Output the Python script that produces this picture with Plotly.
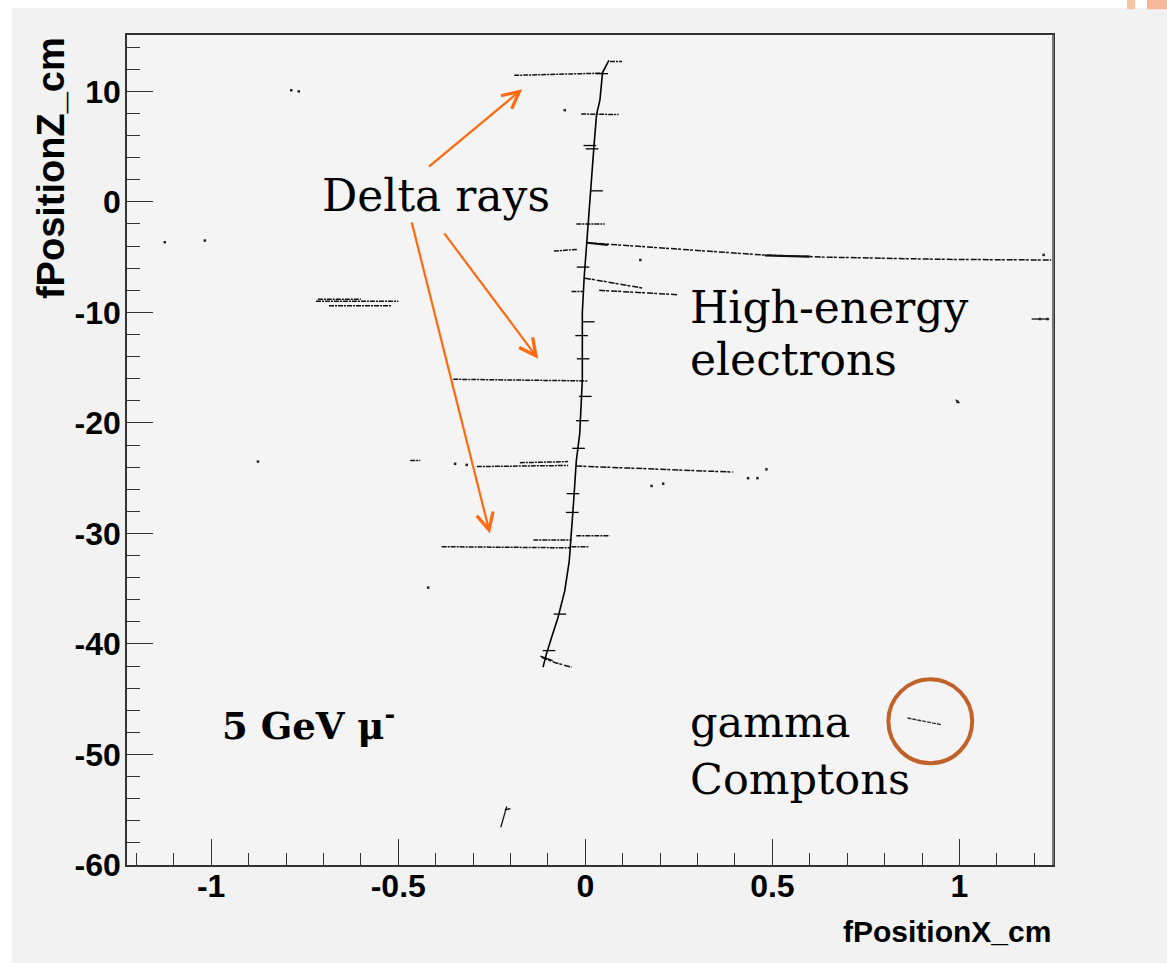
import plotly.graph_objects as go

# ---------------- data ----------------
# main muon track (fPositionX_cm, fPositionZ_cm)
muon_x = [0.063, 0.046, 0.039, 0.030, 0.023, 0.0165, 0.0075, 0.003, -0.003, -0.008,
          -0.008, -0.008, -0.015, -0.024, -0.031, -0.037, -0.043, -0.055, -0.073,
          -0.090, -0.104, -0.113]
muon_z = [12.8, 11.7, 9.2, 7.9, 5.0, 2.0, -1.9, -3.7, -6.8, -10.0,
          -12.5, -16.1, -21.0, -23.4, -27.0, -30.3, -32.5, -35.2, -37.6,
          -39.4, -40.9, -42.1]

# small hit marks along the track
hit_x = [0.008, -0.010, -0.006, 0.000, -0.008, -0.018, -0.033, -0.035, -0.068,
         -0.097, 0.012, 0.018, -0.006, 0.044, 0.030]
hit_z = [-10.85, -12.1, -14.2, -17.6, -19.8, -22.3, -26.4, -28.1, -37.3,
         -40.6, 5.1, 4.8, -5.9, 11.6, 1.0]

# delta-ray segments (None separates segments)
delta_x = [-0.190, 0.050, None, 0.066, 0.098, None, -0.011, 0.089, None,
           -0.024, 0.052, None, -0.084, -0.021, None, -0.037, -0.004, None,
           -0.353, 0.008, None,
           -0.290, -0.046, None, -0.175, -0.046, None, -0.468, -0.441, None,
           -0.384, -0.041, None, -0.139, -0.037, None, -0.024, 0.065, None,
           -0.037, 0.008, None,
           -0.720, -0.500, None, -0.685, -0.517, None, -0.715, -0.600]
delta_z = [11.45, 11.65, None, 12.7, 12.7, None, 7.95, 7.9, None,
           -2.0, -2.0, None, -4.45, -4.3, None, -8.1, -8.1, None,
           -16.05, -16.2, None,
           -23.95, -23.85, None, -23.6, -23.5, None, -23.4, -23.4, None,
           -31.2, -31.3, None, -30.6, -30.6, None, -30.2, -30.2, None,
           -31.2, -31.2, None,
           -9.0, -9.0, None, -9.4, -9.4, None, -8.8, -8.8]

# high-energy electrons
electron_x = [0.005, 0.220, 0.473, 0.641, 0.956, 1.245, None,
              -0.001, 0.154, None, 0.037, 0.248, None,
              -0.024, 0.395, None,
              -0.117, -0.080, -0.037]
electron_z = [-3.7, -4.2, -4.8, -5.0, -5.2, -5.26, None,
              -6.9, -7.8, None, -8.0, -8.4, None,
              -23.9, -24.45, None,
              -41.2, -41.7, -42.1]

# dense part of the long electron
dense_x = [0.480, 0.600, None, 0.005, 0.060]
dense_z = [-4.85, -4.95, None, -3.7, -3.9]

# isolated specks / short stubs
speck_x = [-0.786, -0.766, -1.124, -1.017, -0.875, -0.420, -0.055, 0.147,
           0.177, 0.208, 0.435, 0.460, 0.484, -0.348, -0.317, 1.215, 1.235, 0.995, 1.225]
speck_z = [10.1, 10.0, -3.65, -3.5, -23.5, -34.9, 8.3, -5.26,
           -25.7, -25.5, -25.0, -25.0, -24.2, -23.7, -23.8, -10.6, -10.6, -18.1, -4.8]

stub_x = [-0.210, -0.226, None, -0.215, -0.200, None, 1.193, 1.240, None,
          0.990, 1.000, None, -0.120, -0.087]
stub_z = [-54.7, -56.6, None, -55.0, -54.9, None, -10.6, -10.6, None,
          -17.9, -18.2, None, -41.1, -41.5]

# gamma Compton track
compton_x = [0.861, 0.905, 0.951]
compton_z = [-46.7, -47.0, -47.3]

x_ticks = [-1, -0.5, 0, 0.5, 1]
x_ticktext = ["-1", "-0.5", "0", "0.5", "1"]
z_ticks = [10, 0, -10, -20, -30, -40, -50, -60]
z_ticktext = ["10", "0", "-10", "-20", "-30", "-40", "-50", "-60"]

# ---------------- figure ----------------
SERIF = "DejaVu Serif"
SANS = "Liberation Sans, Arial"

fig = go.Figure()

fig.add_trace(go.Scatter(x=delta_x, y=delta_z, mode="lines",
                         line=dict(color="#111", width=1.5, dash="5px,1px,2px,1px"),
                         hoverinfo="skip", showlegend=False))
fig.add_trace(go.Scatter(x=electron_x, y=electron_z, mode="lines",
                         line=dict(color="#111", width=1.5, dash="6px,1px,3px,2px"),
                         hoverinfo="skip", showlegend=False))
fig.add_trace(go.Scatter(x=dense_x, y=dense_z, mode="lines",
                         line=dict(color="#111", width=2.2),
                         hoverinfo="skip", showlegend=False))
fig.add_trace(go.Scatter(x=stub_x, y=stub_z, mode="lines",
                         line=dict(color="#111", width=1.3),
                         hoverinfo="skip", showlegend=False))
fig.add_trace(go.Scatter(x=speck_x, y=speck_z, mode="markers",
                         marker=dict(color="#222", size=2.5, symbol="square"),
                         hoverinfo="skip", showlegend=False))
fig.add_trace(go.Scatter(x=compton_x, y=compton_z, mode="lines",
                         line=dict(color="#333", width=1.4, dash="4px,1px"),
                         hoverinfo="skip", showlegend=False))
fig.add_trace(go.Scatter(x=muon_x, y=muon_z, mode="lines",
                         line=dict(color="#000", width=1.6),
                         hoverinfo="skip", showlegend=False))
fig.add_trace(go.Scatter(x=hit_x, y=hit_z, mode="markers",
                         marker=dict(symbol="line-ew", size=9,
                                     line=dict(color="#000", width=1.3)),
                         hoverinfo="skip", showlegend=False))

# ---------------- axes ----------------
axis_common = dict(showgrid=False, zeroline=False, showline=True,
                   linecolor="#333", linewidth=1.5, mirror=True,
                   ticks="inside", tickcolor="#333", tickwidth=1,
                   tickfont=dict(family=SANS, size=32, color="#000", weight="bold"))
fig.update_xaxes(range=[-1.225, 1.25], tickvals=x_ticks, ticktext=x_ticktext,
                 ticklen=26, ticklabelstandoff=-8,
                 minor=dict(dtick=0.1, tick0=0, ticklen=12, ticks="inside",
                            tickcolor="#333", tickwidth=1),
                 **axis_common)
fig.update_yaxes(range=[-60, 15.1], tickvals=z_ticks, ticktext=z_ticktext,
                 ticklen=26, ticklabelstandoff=-2,
                 minor=dict(dtick=2, tick0=0, ticklen=13, ticks="inside",
                            tickcolor="#333", tickwidth=1),
                 **axis_common)

ORANGE = "#ff6a10"
annotations = [
    dict(xref="paper", yref="paper", x=-0.082, y=1.0, xanchor="center", yanchor="top",
         text="<b>fPositionZ_cm</b>", textangle=-90, showarrow=False,
         font=dict(family=SANS, size=38, color="#000")),
    dict(xref="paper", yref="paper", x=1.0, y=-0.058, xanchor="right", yanchor="top",
         text="<b>fPositionX_cm</b>", showarrow=False,
         font=dict(family=SANS, size=30, color="#000")),
    dict(x=-0.708, y=0.54, xanchor="left", yanchor="middle", text="Delta rays",
         showarrow=False, font=dict(family=SERIF, size=44, color="#000")),
    dict(x=0.274, y=-9.6, xanchor="left", yanchor="middle", text="High-energy",
         showarrow=False, font=dict(family=SERIF, size=44, color="#000")),
    dict(x=0.274, y=-14.3, xanchor="left", yanchor="middle", text="electrons",
         showarrow=False, font=dict(family=SERIF, size=44, color="#000")),
    dict(x=0.274, y=-47.1, xanchor="left", yanchor="middle", text="gamma",
         showarrow=False, font=dict(family=SERIF, size=43, color="#000")),
    dict(x=0.274, y=-52.2, xanchor="left", yanchor="middle", text="Comptons",
         showarrow=False, font=dict(family=SERIF, size=43, color="#000")),
    dict(x=-0.977, y=-47.2, xanchor="left", yanchor="middle",
         text="<b>5 GeV μ<sup>-</sup></b>",
         showarrow=False, font=dict(family=SERIF, size=37, color="#000")),
]
# orange arrows: (tail_x, tail_z, head_x, head_z)
arrows = [(-0.422, 3.08, -0.169, 10.2),
          (-0.380, -2.72, -0.126, -14.2),
          (-0.465, -1.72, -0.255, -30.0)]
for tx, tz, hx, hz in arrows:
    annotations.append(dict(x=hx, y=hz, ax=tx, ay=tz, xref="x", yref="y",
                            axref="x", ayref="y", text="", showarrow=True,
                            arrowhead=5, arrowsize=1.5, arrowwidth=2.2,
                            arrowcolor=ORANGE, standoff=0, startstandoff=0))

shapes = [
    # circle around the gamma Compton
    dict(type="circle", xref="x", yref="y", x0=0.810, x1=1.034, y0=-50.8, y1=-43.2,
         line=dict(color="#c0622a", width=4)),
    # white slide strips (left and top)
    dict(type="rect", xref="paper", yref="paper", x0=-0.1372, x1=-0.1242,
         y0=-0.2, y1=1.05, fillcolor="white", line=dict(width=0), layer="below"),
    dict(type="rect", xref="paper", yref="paper", x0=-0.1372, x1=1.2,
         y0=1.0325, y1=1.05, fillcolor="white", line=dict(width=0), layer="below"),
    # slide decoration squares
    dict(type="rect", xref="paper", yref="paper", x0=1.0799, x1=1.0886,
         y0=1.031, y1=1.05, fillcolor="#f8c4a6", line=dict(width=0)),
    dict(type="rect", xref="paper", yref="paper", x0=1.1015, x1=1.13,
         y0=1.031, y1=1.05, fillcolor="#f6b896", line=dict(width=0)),
    # right frame (grey)
    dict(type="line", xref="paper", yref="paper", x0=1, x1=1, y0=0, y1=1,
         line=dict(color="#777", width=2)),
]

fig.update_layout(width=1167, height=963,
                  margin=dict(l=127, r=114, t=35, b=98, pad=0),
                  paper_bgcolor="#f2f2f2", plot_bgcolor="#f4f4f4",
                  annotations=annotations, shapes=shapes, showlegend=False)

fig.write_html("out.html", config={"displayModeBar": False},
               post_script="document.body.style.margin='0';")
